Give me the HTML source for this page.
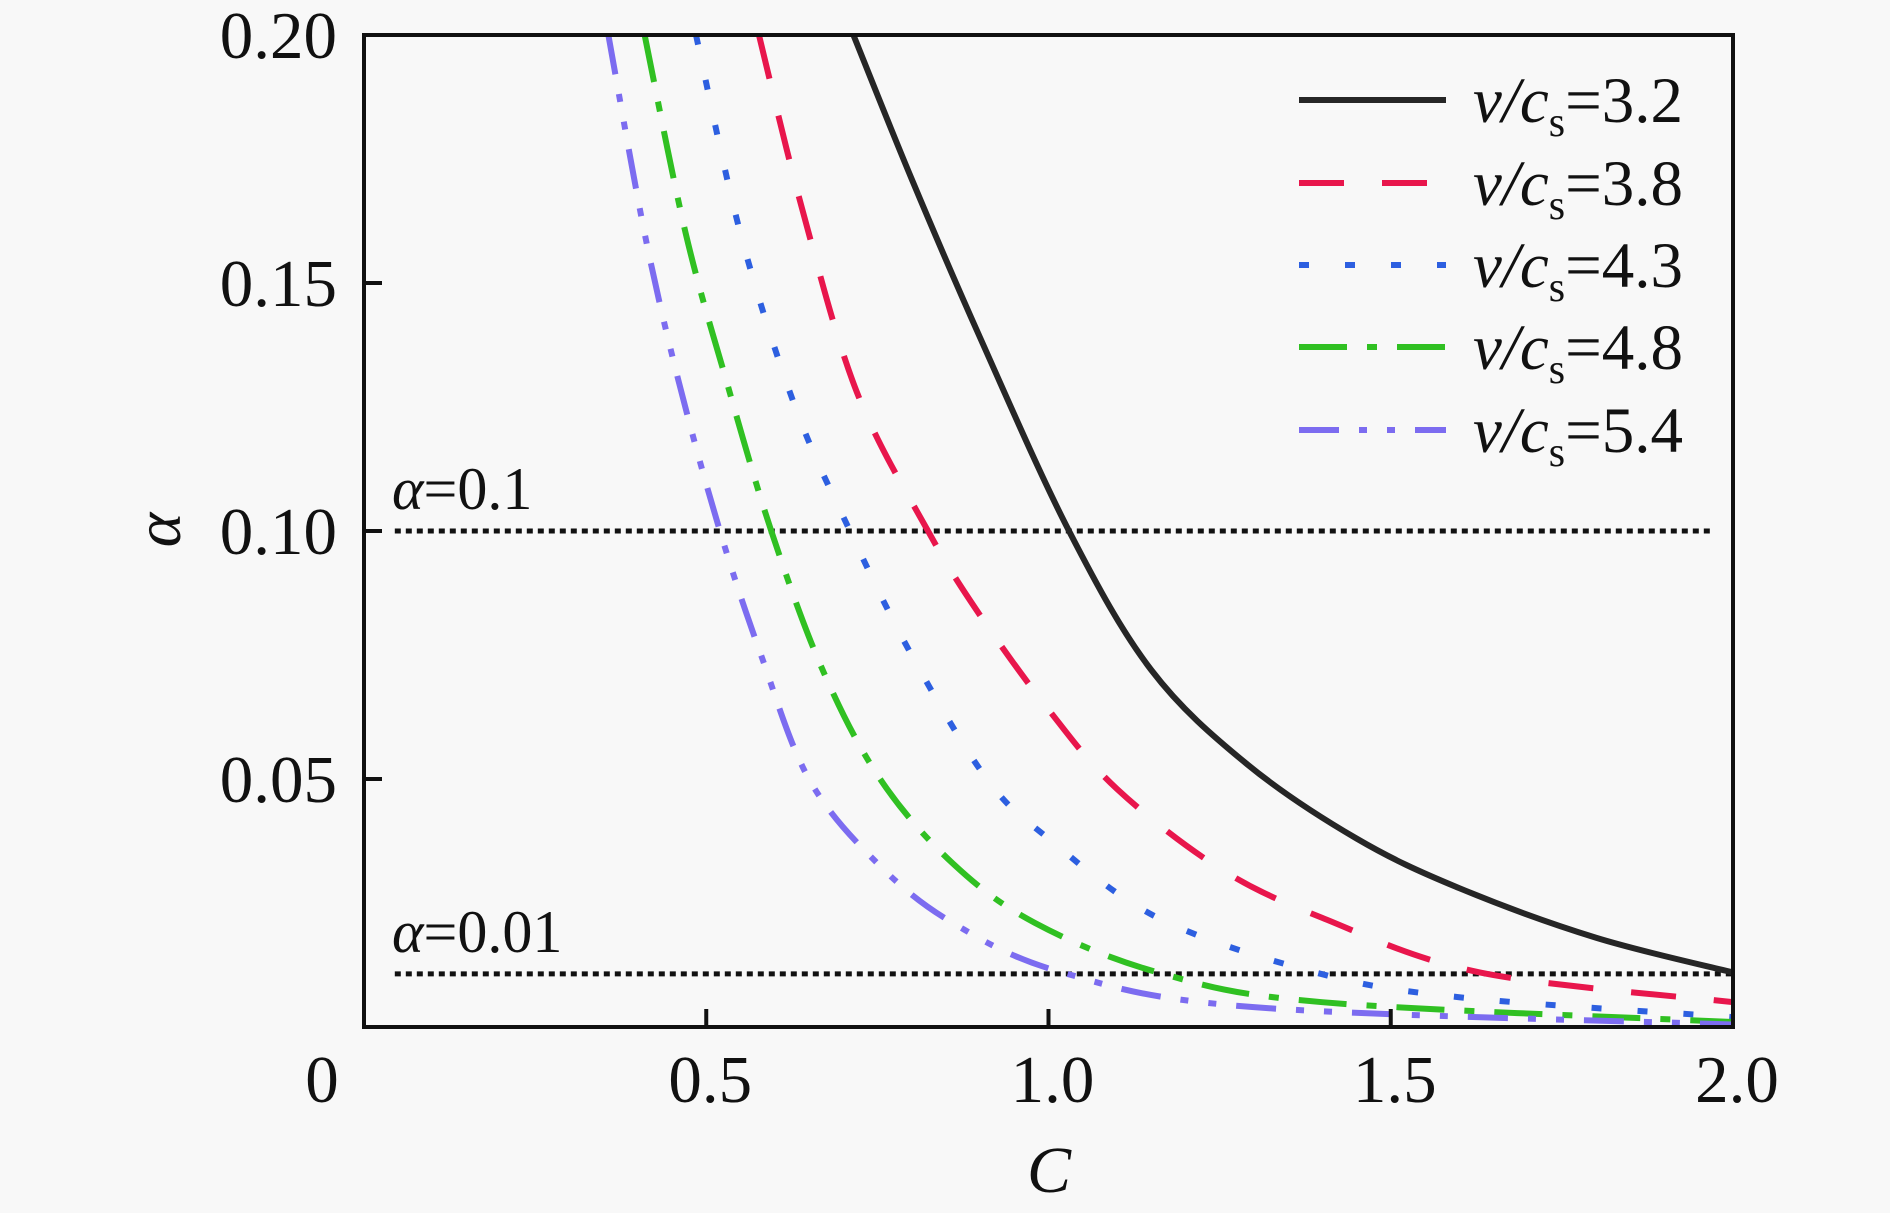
<!DOCTYPE html>
<html><head><meta charset="utf-8"><style>
html,body{margin:0;padding:0;background:#f8f8f8;}
svg{display:block;}
text{font-family:"Liberation Serif",serif;fill:#111;}
</style></head><body>
<svg id="chart" width="1890" height="1213" viewBox="0 0 1890 1213" xmlns="http://www.w3.org/2000/svg">
<rect x="0" y="0" width="1890" height="1213" fill="#f8f8f8"/>
<g id="marks"></g>
<g id="axes"></g>
<g id="legend"></g>
</svg>
<script>
const xTicks = [0, 0.5, 1.0, 1.5, 2.0];
const xTickLabels = ["0", "0.5", "1.0", "1.5", "2.0"];
const yTicks = [0.05, 0.10, 0.15, 0.20];
const yTickLabels = ["0.05", "0.10", "0.15", "0.20"];
const seriesNames = ["3.2", "3.8", "4.3", "4.8", "5.4"];
const s32C = [0.715, 0.80, 0.90, 1.03, 1.15, 1.29, 1.45, 1.6, 1.8, 2.0];
const s32A = [0.2, 0.171, 0.139, 0.10, 0.072, 0.053, 0.038, 0.028, 0.018, 0.011];
const s38C = [0.577, 0.64, 0.72, 0.824, 0.9, 1.0, 1.1, 1.25, 1.4, 1.63, 2.0];
const s38A = [0.2, 0.165, 0.128, 0.10, 0.083, 0.064, 0.048, 0.032, 0.022, 0.011, 0.005];
const s43C = [0.485, 0.55, 0.63, 0.71, 0.8, 0.91, 1.0, 1.16, 1.39, 1.6, 2.0];
const s43A = [0.2, 0.16, 0.125, 0.10, 0.075, 0.05, 0.038, 0.022, 0.011, 0.006, 0.002];
const s48C = [0.41, 0.47, 0.53, 0.595, 0.67, 0.754, 0.86, 0.98, 1.16, 1.4, 2.0];
const s48A = [0.2, 0.16, 0.13, 0.10, 0.072, 0.05, 0.033, 0.021, 0.011, 0.005, 0.001];
const s54C = [0.357, 0.41, 0.46, 0.52, 0.58, 0.65, 0.75, 0.86, 1.02, 1.3, 2.0];
const s54A = [0.2, 0.16, 0.13, 0.10, 0.075, 0.05, 0.033, 0.021, 0.011, 0.004, 0.0005];
const refLevels = [0.1, 0.0107];
const refLabels = ["0.1", "0.01"];

const L=364,R=1733,T=35,B=1027;
const xs=v=>L+(v-0)/(2-0)*(R-L);
const ys=v=>B-(v-0)/(0.2-0)*(B-T);
const NS="http://www.w3.org/2000/svg";
function mk(tag,attrs,parent){const e=document.createElementNS(NS,tag);for(const k in attrs)e.setAttribute(k,attrs[k]);parent.appendChild(e);return e;}
const marks=document.getElementById('marks'),axes=document.getElementById('axes'),legend=document.getElementById('legend');
const styles=[
 {c:"#262626",d:""},
 {c:"#e8164c",d:"45 38"},
 {c:"#2d5fe0",d:"10 36"},
 {c:"#30c022",d:"48 20 10 20"},
 {c:"#7c6cf0",d:"40 20 8 20 8 20"}];
const seriesC=[s32C,s38C,s43C,s48C,s54C], seriesA=[s32A,s38A,s43A,s48A,s54A];

const defs=mk('defs',{},marks);
const cp=mk('clipPath',{id:'clip'},defs);
mk('rect',{x:L,y:T,width:R-L,height:B-T},cp);

refLevels.forEach((lv,i)=>{
  const ln=mk('line',{x1:xs(0.045),x2:xs(i==0?1.97:2.0),y1:ys(lv),y2:ys(lv),stroke:"#111","stroke-width":5,"stroke-dasharray":"6 5"},marks);
  
  
  const t=mk('text',{x:392,y:ys(lv)-22,"font-size":60},marks);
  
  
  const ti=mk('tspan',{"font-style":"italic"},t);ti.textContent="α";
  const tr=mk('tspan',{},t);tr.textContent="="+refLabels[i];
});

function pathFor(C,A){
  const p=C.map((c,i)=>[xs(c),ys(A[i])]);
  let d="M"+p[0][0]+","+p[0][1];
  for(let i=0;i<p.length-1;i++){
    const p0=p[Math.max(0,i-1)],p1=p[i],p2=p[i+1],p3=p[Math.min(p.length-1,i+2)];
    const c1=[p1[0]+(p2[0]-p0[0])/6,p1[1]+(p2[1]-p0[1])/6];
    const c2=[p2[0]-(p3[0]-p1[0])/6,p2[1]-(p3[1]-p1[1])/6];
    d+=" C"+c1[0]+","+c1[1]+" "+c2[0]+","+c2[1]+" "+p2[0]+","+p2[1];
  }
  return d;
}
seriesC.forEach((C,i)=>{
  const pa=mk('path',{d:pathFor(C,seriesA[i]),fill:"none",stroke:styles[i].c,"stroke-width":6,"stroke-dasharray":styles[i].d,"clip-path":"url(#clip)"},marks);
  
  
});

const fr=mk('rect',{x:L,y:T,width:R-L,height:B-T,fill:"none",stroke:"#111","stroke-width":4},axes);



yTicks.forEach((v,i)=>{
  const tk=mk('line',{x1:L,x2:L+18,y1:ys(v),y2:ys(v),stroke:"#111","stroke-width":4},axes);
  
  
  const t=mk('text',{x:337,y:ys(v)+23,"text-anchor":"end","font-size":67},axes);
  
  
  t.textContent=yTickLabels[i];
});
xTicks.forEach((v,i)=>{
  if(i>0&&i<xTicks.length-1){
    const tk=mk('line',{x1:xs(v),x2:xs(v),y1:B,y2:B-18,stroke:"#111","stroke-width":4},axes);
    
    
  }
  const t=mk('text',{x:i==0?322:xs(v)+4,y:1102,"text-anchor":"middle","font-size":67},axes);
  
  
  t.textContent=xTickLabels[i];
});
const xt=mk('text',{x:1049,y:1192,"text-anchor":"middle","font-size":66,"font-style":"italic"},axes);


xt.textContent="C";
const yt=mk('text',{x:0,y:0,"text-anchor":"middle","font-size":66,"font-style":"italic",transform:"translate(180,530) rotate(-90)"},axes);


yt.textContent="α";

const rowsY=[100,183,265,347,430];
seriesNames.forEach((n,i)=>{
  const g=mk('g',{},legend);
  
  
  mk('line',{x1:1299,x2:1446,y1:rowsY[i],y2:rowsY[i],stroke:styles[i].c,"stroke-width":6,"stroke-dasharray":styles[i].d},g);
  const t=mk('text',{x:1473,y:rowsY[i]+22,"font-size":65},g);
  const a=mk('tspan',{"font-style":"italic"},t);a.textContent="v/c";
  const s=mk('tspan',{"font-size":42,dy:14},t);s.textContent="s";
  const b=mk('tspan',{dy:-14},t);b.textContent="="+n;
});
</script>
</body></html>
